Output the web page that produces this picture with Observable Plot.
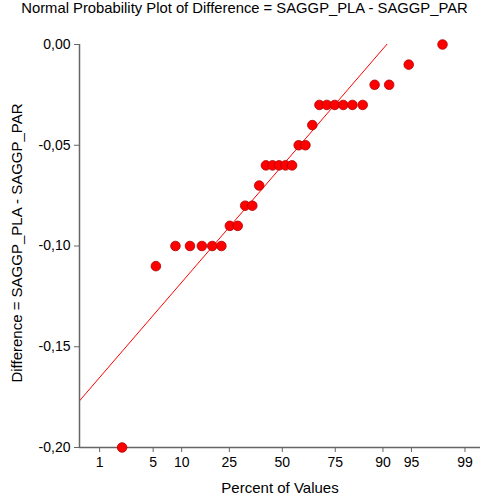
<!DOCTYPE html>
<html>
<head>
<meta charset="utf-8">
<script src="https://cdn.jsdelivr.net/npm/d3@7"></script>
<script src="https://cdn.jsdelivr.net/npm/@observablehq/plot@0.6"></script>
<style>
  body { margin: 0; background: #fff; }
  #title { height: 27px; line-height: 27px; font: 14.8px "Liberation Sans", Arial, sans-serif; text-align: center; padding-left: 9px; color: #000; white-space: nowrap; }
</style>
</head>
<body>
<div id="title">Normal Probability Plot of Difference = SAGGP_PLA - SAGGP_PAR</div>
<div id="chart"></div>
<script>
// Sorted observed differences (n = 30)
const diffValues = [
  -0.20, -0.11,
  -0.10, -0.10, -0.10, -0.10, -0.10,
  -0.09, -0.09,
  -0.08, -0.08,
  -0.07,
  -0.06, -0.06, -0.06, -0.06, -0.06,
  -0.05, -0.05,
  -0.04,
  -0.03, -0.03, -0.03, -0.03, -0.03, -0.03,
  -0.02, -0.02,
  -0.01,
  0.00
];
const xTickPercents = [1, 5, 10, 25, 50, 75, 90, 95, 99];
const xTickLabels = ["1", "5", "10", "25", "50", "75", "90", "95", "99"];
const yTicks = [0, -0.05, -0.10, -0.15, -0.20];
// Reference line: y = intercept + slope * z
const lineIntercept = -0.0601;
const lineSlope = 0.0452;
const xDomainPercent = [0.49, 99.42];

// inverse standard normal CDF (Acklam)
function probit(p) {
  const a = [-3.969683028665376e+01, 2.209460984245205e+02, -2.759285104469687e+02, 1.383577518672690e+02, -3.066479806614716e+01, 2.506628277459239e+00];
  const b = [-5.447609879822406e+01, 1.615858368580409e+02, -1.556989798598866e+02, 6.680131188771972e+01, -1.328068155288572e+01];
  const c = [-7.784894002430293e-03, -3.223964580411365e-01, -2.400758277161838e+00, -2.549732539343734e+00, 4.374664141464968e+00, 2.938163982698783e+00];
  const d = [7.784695709041462e-03, 3.224671290700398e-01, 2.445134137142996e+00, 3.754408661907416e+00];
  const pl = 0.02425, ph = 1 - pl;
  let q, r;
  if (p < pl) {
    q = Math.sqrt(-2 * Math.log(p));
    return (((((c[0]*q+c[1])*q+c[2])*q+c[3])*q+c[4])*q+c[5]) / ((((d[0]*q+d[1])*q+d[2])*q+d[3])*q+1);
  } else if (p <= ph) {
    q = p - 0.5; r = q*q;
    return (((((a[0]*r+a[1])*r+a[2])*r+a[3])*r+a[4])*r+a[5])*q / (((((b[0]*r+b[1])*r+b[2])*r+b[3])*r+b[4])*r+1);
  } else {
    q = Math.sqrt(-2 * Math.log(1 - p));
    return -(((((c[0]*q+c[1])*q+c[2])*q+c[3])*q+c[4])*q+c[5]) / ((((d[0]*q+d[1])*q+d[2])*q+d[3])*q+1);
  }
}

const n = diffValues.length;
const points = diffValues.map((v, i) => ({
  z: probit((i + 1 - 0.375) / (n + 0.25)),
  value: v
}));
const zDomain = xDomainPercent.map(p => probit(p / 100));
const fitLine = zDomain.map(z => ({ z, value: lineIntercept + lineSlope * z }));

const fmtY = d => d.toFixed(2).replace(".", ",");
const axisColor = "#666";

const chart = Plot.plot({
  width: 480,
  height: 473,
  marginTop: 17,
  marginBottom: 53,
  marginLeft: 79,
  marginRight: 0,
  style: { fontSize: "14px", fontFamily: "'Liberation Sans', Arial, sans-serif", color: "#000", background: "#fff" },
  x: { type: "linear", domain: zDomain },
  y: { domain: [-0.20, 0.00] },
  marks: [
    Plot.line(fitLine, { x: "z", y: "value", stroke: "#ff0000", strokeWidth: 1, clip: true }),
    Plot.ruleX([zDomain[0]], { stroke: axisColor, strokeWidth: 1.5 }),
    Plot.ruleY([-0.20], { stroke: axisColor, strokeWidth: 1.5 }),
    Plot.axisY({ ticks: yTicks, tickFormat: fmtY, tickSize: 5, tickPadding: 4, stroke: axisColor, label: null, fill: "#000" }),
    Plot.axisX({ ticks: xTickPercents.map(p => probit(p / 100)), tickFormat: (d, i) => xTickLabels[i], tickSize: 5, tickPadding: 5, stroke: axisColor, label: null, fill: "#000" }),
    Plot.text(["Percent of Values"], { frameAnchor: "bottom", dy: 45, lineAnchor: "bottom", fill: "#000", fontSize: 15 }),
    Plot.text(["Difference = SAGGP_PLA - SAGGP_PAR"], { frameAnchor: "left", textAnchor: "middle", rotate: -90, dx: -62, dy: -3, fill: "#000", fontSize: 15 }),
    Plot.dot(points, { x: "z", y: "value", r: 4.8, fill: "#ff0000", stroke: "#b00000", strokeWidth: 0.8 })
  ]
});
document.getElementById("chart").appendChild(chart);
</script>
</body>
</html>
